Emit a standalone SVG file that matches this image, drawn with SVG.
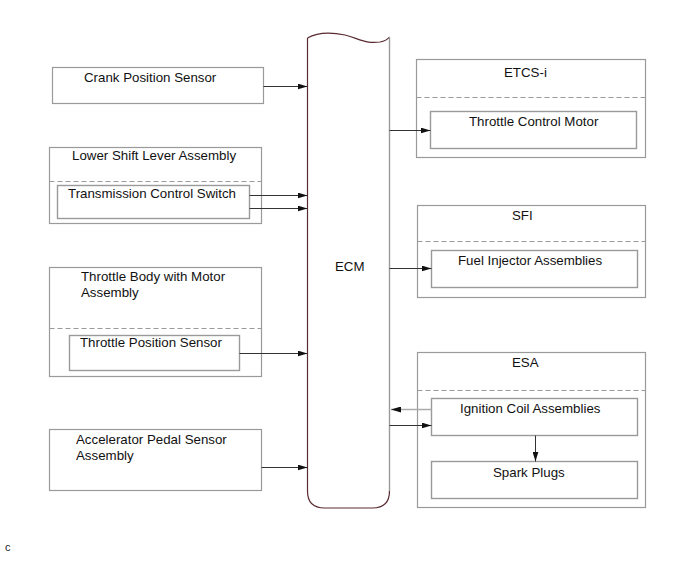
<svg xmlns="http://www.w3.org/2000/svg" width="690" height="562" viewBox="0 0 690 562">
<defs>
<marker id="ah" viewBox="0 0 10 6" refX="10" refY="3" markerWidth="10" markerHeight="6" markerUnits="userSpaceOnUse" orient="auto">
<path d="M0,0 L10,3 L0,6 Z" fill="#111"/>
</marker>
</defs>
<style>
.box{fill:#fff;stroke:#9a9a9a;stroke-width:1.2}
.in{fill:#fff;stroke:#9a9a9a;stroke-width:1.4}
.dash{stroke:#9a9a9a;stroke-width:1;stroke-dasharray:5,3;fill:none}
.t{font-family:"Liberation Sans",Arial,sans-serif;font-size:13.3px;fill:#111}
.c{stroke:#333;stroke-width:1;fill:none;marker-end:url(#ah)}
</style>
<rect width="690" height="562" fill="#fff"/>

<g id="ecm">
<path d="M307.5,38 C318,32 330,32 345,35 C360,39 365,44 380,42 C385,41 388,39 389.5,37" fill="none" stroke="#5a2a30" stroke-width="1.2"/>
<path d="M307.5,38 L307.5,491 Q307.5,508 324.5,508 L372.5,508 Q389.5,508 389.5,491" fill="none" stroke="#5a2a30" stroke-width="1.2"/>
<line x1="389.5" y1="37" x2="389.5" y2="491" stroke="#9a9a9a" stroke-width="1.4"/>
<text class="t" x="335" y="271">ECM</text>
</g>

<g id="crank">
<rect class="box" x="52.5" y="67.5" width="211" height="36"/>
<text class="t" x="84" y="82">Crank Position Sensor</text>
</g>

<g id="lowershift">
<rect class="box" x="49.5" y="147.5" width="212" height="76"/>
<line class="dash" x1="49.5" y1="181.5" x2="261.5" y2="181.5"/>
<text class="t" x="72" y="160">Lower Shift Lever Assembly</text>
<rect class="in" x="57.5" y="185.5" width="192" height="33"/>
<text class="t" x="68" y="198">Transmission Control Switch</text>
</g>

<g id="throttlebody">
<rect class="box" x="49.5" y="267.5" width="212" height="109"/>
<line class="dash" x1="49.5" y1="328.5" x2="261.5" y2="328.5"/>
<text class="t" x="81" y="281">Throttle Body with Motor</text>
<text class="t" x="81" y="297">Assembly</text>
<rect class="in" x="69.5" y="335.5" width="170" height="35"/>
<text class="t" x="80" y="347">Throttle Position Sensor</text>
</g>

<g id="accel">
<rect class="box" x="49.5" y="429.5" width="212" height="61"/>
<text class="t" x="76" y="444">Accelerator Pedal Sensor</text>
<text class="t" x="76" y="460">Assembly</text>
</g>

<g id="etcs">
<rect class="box" x="416.5" y="59.5" width="229" height="98"/>
<line class="dash" x1="416.5" y1="97.5" x2="645.5" y2="97.5"/>
<text class="t" x="504" y="77">ETCS-i</text>
<rect class="in" x="430.5" y="111.5" width="206" height="37"/>
<text class="t" x="469" y="126">Throttle Control Motor</text>
</g>

<g id="sfi">
<rect class="box" x="417.5" y="205.5" width="228" height="92"/>
<line class="dash" x1="417.5" y1="241.5" x2="645.5" y2="241.5"/>
<text class="t" x="512" y="220">SFI</text>
<rect class="in" x="431.5" y="250.5" width="206" height="37"/>
<text class="t" x="458" y="265">Fuel Injector Assemblies</text>
</g>

<g id="esa">
<rect class="box" x="417.5" y="352.5" width="228" height="155"/>
<line class="dash" x1="417.5" y1="390.5" x2="645.5" y2="390.5"/>
<text class="t" x="512" y="367">ESA</text>
<rect class="in" x="431.5" y="398.5" width="206" height="37"/>
<text class="t" x="460" y="413">Ignition Coil Assemblies</text>
<rect class="in" x="431.5" y="461.5" width="206" height="37"/>
<text class="t" x="493" y="477">Spark Plugs</text>
</g>

<g id="connectors">
<line class="c" x1="263.5" y1="86.5" x2="307.5" y2="86.5"/>
<line class="c" x1="249.5" y1="195.5" x2="307.5" y2="195.5"/>
<line class="c" x1="249.5" y1="208.5" x2="307.5" y2="208.5"/>
<line class="c" x1="239.5" y1="353.5" x2="307.5" y2="353.5"/>
<line class="c" x1="261.5" y1="467.5" x2="307.5" y2="467.5"/>
<line class="c" x1="389.5" y1="130.5" x2="430.5" y2="130.5"/>
<line class="c" x1="389.5" y1="268.5" x2="431.5" y2="268.5"/>
<line class="c" x1="431.5" y1="409.5" x2="391" y2="409.5" style="stroke:#aaa;stroke-width:1.5"/>
<line class="c" x1="389.5" y1="425.5" x2="431.5" y2="425.5"/>
<line class="c" x1="535.5" y1="435.5" x2="535.5" y2="461.5"/>
</g>

<text x="5" y="551" style="font-family:'Liberation Sans',Arial,sans-serif;font-size:11px;fill:#222">c</text>
</svg>
